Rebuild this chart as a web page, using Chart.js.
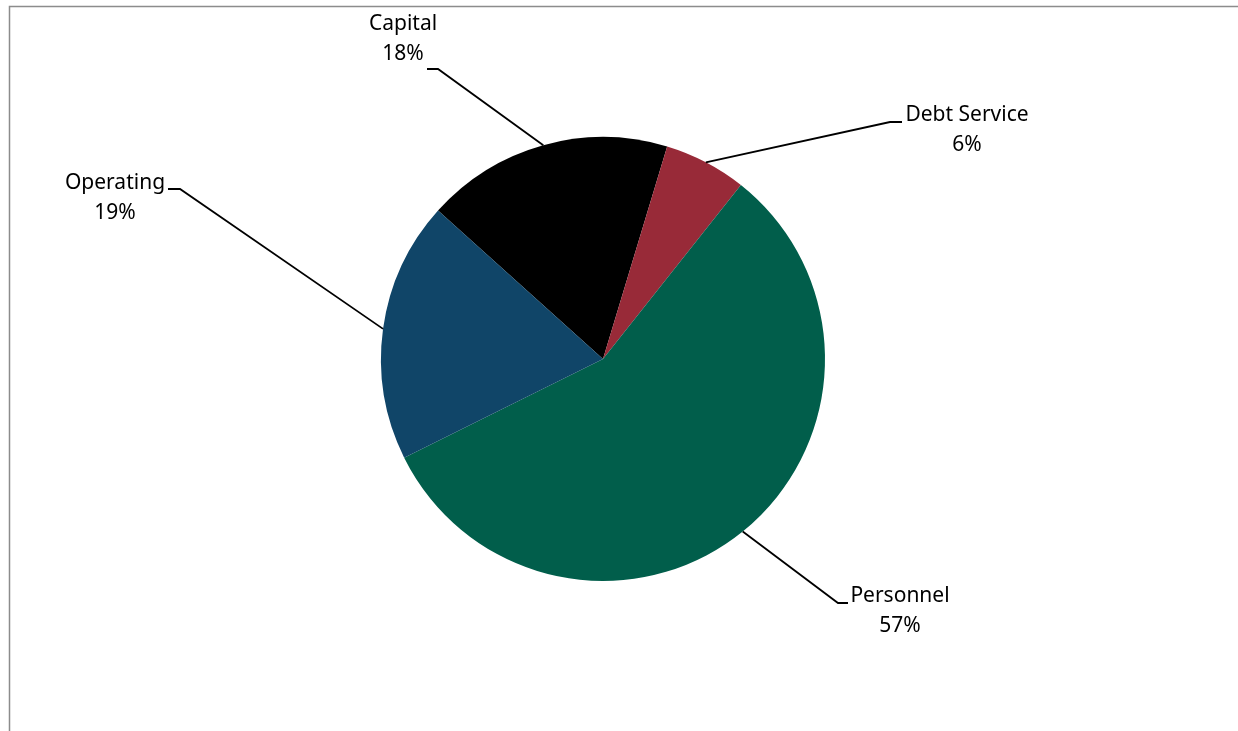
<!DOCTYPE html>
<html>
<head>
<meta charset="utf-8">
<script src="https://cdn.jsdelivr.net/npm/chart.js@4/dist/chart.umd.min.js"></script>
<style>
  html, body { margin: 0; padding: 0; background: #fff; overflow: hidden; }
  .wrap { width: 1238px; height: 731px; position: relative; }
</style>
</head>
<body>
<div class="wrap"><canvas id="pie"></canvas></div>
<script>
const categories = ['Capital', 'Debt Service', 'Personnel', 'Operating'];
const values = [18, 6, 57, 19];
const pctLabels = ['18%', '6%', '57%', '19%'];
const colors = ['#000000', '#982a38', '#015e4b', '#104568'];

// where each label sits: text centre, elbow of the leader line, end of the short tick
const labelSpots = [
  { tx: 403, ty: 24, ex: 438, ey: 69, hx: 427 },
  { tx: 967, ty: 115, ex: 890, ey: 122, hx: 902 },
  { tx: 900, ty: 596, ex: 838, ey: 603, hx: 848 },
  { tx: 115, ty: 183, ex: 180, ey: 189, hx: 168 }
];

const frame = {
  id: 'frame',
  beforeDraw(chart) {
    const ctx = chart.ctx;
    ctx.save();
    ctx.strokeStyle = '#8c8c8c';
    ctx.lineWidth = 1.5;
    ctx.beginPath();
    ctx.moveTo(9.5, 731);
    ctx.lineTo(9.5, 6.5);
    ctx.lineTo(1238, 6.5);
    ctx.stroke();
    ctx.restore();
  }
};

const leaders = {
  id: 'leaders',
  afterDatasetsDraw(chart) {
    const ctx = chart.ctx;
    const arcs = chart.getDatasetMeta(0).data;
    ctx.save();
    arcs.forEach((arc, i) => {
      const mid = (arc.startAngle + arc.endAngle) / 2;
      const ax = arc.x + Math.cos(mid) * arc.outerRadius;
      const ay = arc.y + Math.sin(mid) * arc.outerRadius;
      const s = labelSpots[i];
      ctx.strokeStyle = '#000';
      ctx.lineWidth = 1.8;
      ctx.beginPath();
      ctx.moveTo(ax, ay);
      ctx.lineTo(s.ex, s.ey);
      ctx.lineTo(s.hx, s.ey);
      ctx.stroke();

      ctx.fillStyle = '#000';
      ctx.font = '21px "Noto Sans", sans-serif';
      ctx.textAlign = 'center';
      ctx.textBaseline = 'middle';
      ctx.fillText(categories[i], s.tx, s.ty);
      ctx.fillText(pctLabels[i], s.tx, s.ty + 30);
    });
    ctx.restore();
  }
};

new Chart(document.getElementById('pie'), {
  type: 'pie',
  data: {
    labels: categories,
    datasets: [{
      data: values,
      backgroundColor: colors,
      borderWidth: 0
    }]
  },
  options: {
    responsive: true,
    maintainAspectRatio: false,
    animation: false,
    rotation: -48,
    layout: { padding: { top: 137, bottom: 150, left: 381, right: 413 } },
    plugins: {
      legend: { display: false },
      tooltip: { enabled: false }
    }
  },
  plugins: [frame, leaders]
});
</script>
</body>
</html>
